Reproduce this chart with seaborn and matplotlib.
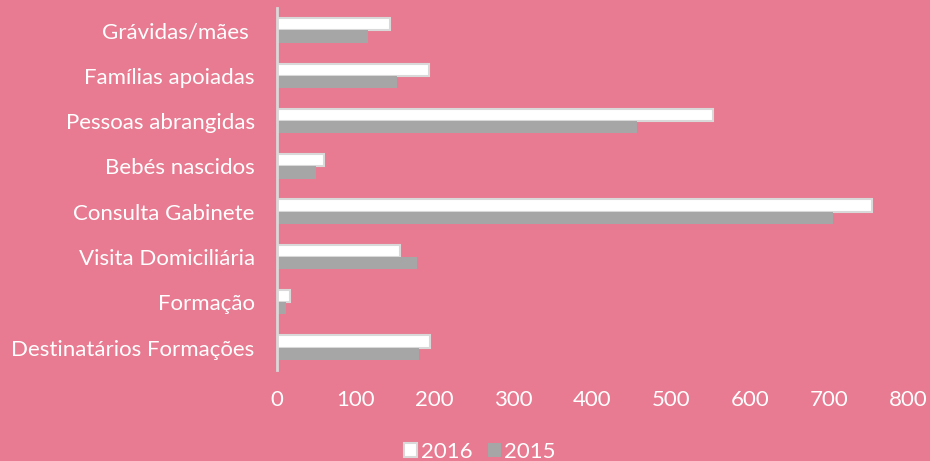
import pandas as pd
import numpy as np
import matplotlib
matplotlib.use("Agg")
import matplotlib.pyplot as plt
import seaborn as sns
from matplotlib.patches import Patch

categorias = ["Grávidas/mães ", "Famílias apoiadas", "Pessoas abrangidas", "Bebés nascidos",
              "Consulta Gabinete", "Visita Domiciliária", "Formação", "Destinatários Formações"]
valores_2016 = [143, 193, 553, 60, 755, 156, 16, 194]
valores_2015 = [115, 152, 456, 49, 705, 177, 11, 180]
anos = ["2016", "2015"]
ticks_x = [0, 100, 200, 300, 400, 500, 600, 700, 800]

df = pd.DataFrame({
    "categoria": categorias * 2,
    "valor": valores_2016 + valores_2015,
    "ano": ["2016"] * len(categorias) + ["2015"] * len(categorias),
})

fundo = "#E87B91"
cinza = "#A6A6A6"
borda = "#D9D9D9"

sns.set_style("white")
plt.rcParams["font.family"] = ["Lato", "DejaVu Sans"]

fig = plt.figure(figsize=(9.3, 4.61), dpi=100, facecolor=fundo)
ax = fig.add_axes([0.2978, 0.197, 0.6785, 0.786])
ax.set_facecolor(fundo)

sns.barplot(data=df, y="categoria", x="valor", hue="ano", hue_order=anos,
            palette={"2016": "white", "2015": cinza}, orient="h",
            width=0.54, ax=ax, legend=False, saturation=1)

# bordas cinzentas nas barras brancas
for cont, ano in zip(ax.containers, anos):
    for p in cont:
        if ano == "2016":
            p.set_edgecolor(borda)
            p.set_linewidth(1.5)
        else:
            p.set_edgecolor("none")

ax.set_xlim(0, 800)
ax.set_xticks(ticks_x)
ax.set_ylim(7.5, -0.5)
ax.set_xlabel("")
ax.set_ylabel("")

for s in ["top", "right", "bottom"]:
    ax.spines[s].set_visible(False)
ax.spines["left"].set_color(borda)
ax.spines["left"].set_linewidth(2)

ax.tick_params(axis="x", colors="white", labelsize=16, length=0, pad=14)
ax.tick_params(axis="y", colors="white", labelsize=16, length=0, pad=16)

handles = [Patch(facecolor="white", edgecolor=borda, linewidth=1.5),
           Patch(facecolor=cinza, edgecolor="none")]
fig.legend(handles, anos, loc="center", bbox_to_anchor=(0.516, 0.02), ncol=2,
           frameon=False, fontsize=16, labelcolor="white", handlelength=0.6,
           handleheight=0.6, handletextpad=0.15, columnspacing=0.7)

fig.savefig("out.png", dpi=100, facecolor=fundo)
